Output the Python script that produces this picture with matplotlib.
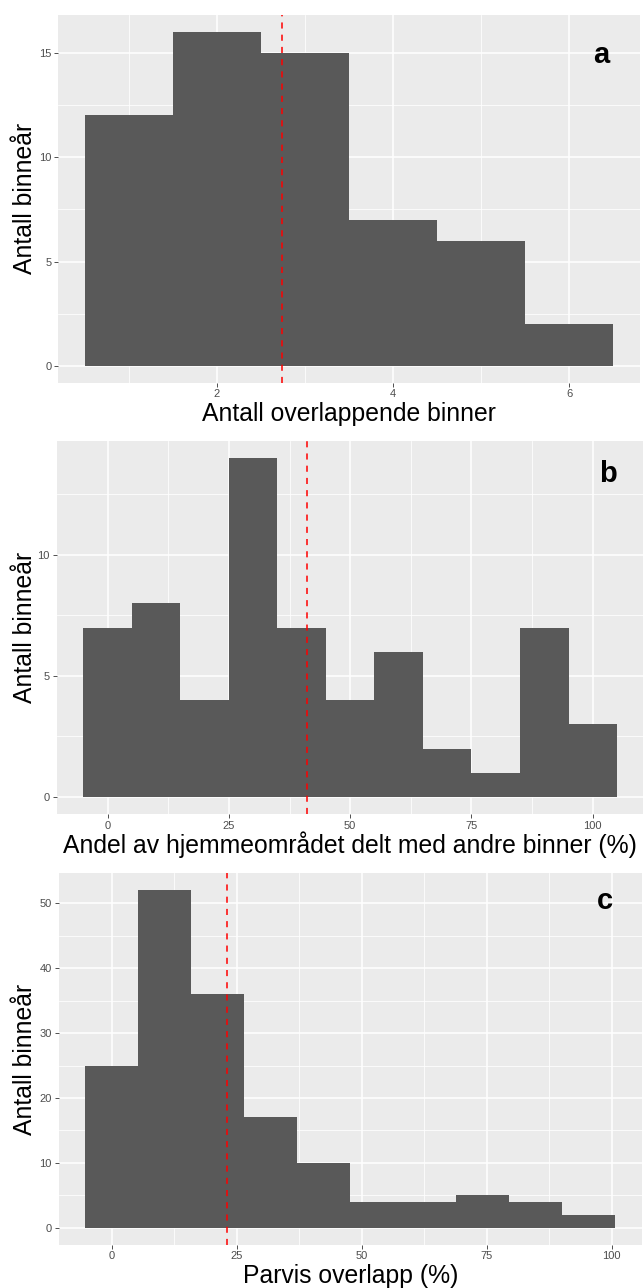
import numpy as np
import matplotlib
matplotlib.use('Agg')
import matplotlib.pyplot as plt
from matplotlib.ticker import MultipleLocator

plt.rcParams['font.family'] = ['Liberation Sans', 'DejaVu Sans']

# a: antall overlappende binner
a_centers = [1, 2, 3, 4, 5, 6]
a_counts = [12, 16, 15, 7, 6, 2]
a_width = 1.0
a_mean = 2.74

# b: andel av hjemmeområdet delt med andre binner (%)
b_centers = [0, 10, 20, 30, 40, 50, 60, 70, 80, 90, 100]
b_counts = [7, 8, 4, 14, 7, 4, 6, 2, 1, 7, 3]
b_width = 10.0
b_mean = 41.0

# c: parvis overlapp (%)
c_centers = [0, 10.6, 21.2, 31.8, 42.4, 53.0, 63.6, 74.2, 84.8, 95.4]
c_counts = [25, 52, 36, 17, 10, 4, 4, 5, 4, 2]
c_width = 10.6
c_mean = 23.0

ylab = 'Antall binneår'
xlabs = ['Antall overlappende binner',
         'Andel av hjemmeområdet delt med andre binner (%)',
         'Parvis overlapp (%)']
tags = ['a', 'b', 'c']

W, H = 643, 1288
fig = plt.figure(figsize=(W / 100, H / 100), dpi=100)
fig.patch.set_facecolor('white')

# panel boxes in pixels: left, right, top, bottom
boxes = [(58.3, 639.7, 15.0, 382.7),
         (56.7, 643.7, 441.0, 814.0),
         (58.7, 641.7, 873.4, 1244.7)]
xsteps = [(2, 1), (25, 12.5), (25, 12.5)]
ysteps = [(5, 2.5), (5, 2.5), (10, 5)]
tag_pos = [(6.36, 14.5), (103.2, 13.0), (98.7, 49.1)]
xlab_base = [421.0, 852.7, 1282.7]
ylab_base = 32.0

series = [(a_centers, a_counts, a_width, a_mean),
          (b_centers, b_counts, b_width, b_mean),
          (c_centers, c_counts, c_width, c_mean)]

for i, (centers, counts, width, mean) in enumerate(series):
    l, r, t, b = boxes[i]
    ax = fig.add_axes([l / W, 1 - b / H, (r - l) / W, (b - t) / H])
    ax.set_facecolor('#EBEBEB')
    for s in ax.spines.values():
        s.set_visible(False)

    ax.bar(centers, counts, width=width, color='#595959', linewidth=0, zorder=2)
    ax.axvline(mean, color='red', linestyle=(0, (4, 4)), linewidth=1.1, zorder=3)

    # ggplot-like expansion of 5 % on each side
    lo = min(centers) - width / 2
    hi = max(centers) + width / 2
    ax.set_xlim(lo - 0.05 * (hi - lo), hi + 0.05 * (hi - lo))
    ymax = max(counts)
    ax.set_ylim(-0.05 * ymax, 1.05 * ymax)

    ax.xaxis.set_major_locator(MultipleLocator(xsteps[i][0]))
    ax.xaxis.set_minor_locator(MultipleLocator(xsteps[i][1]))
    ax.yaxis.set_major_locator(MultipleLocator(ysteps[i][0]))
    ax.yaxis.set_minor_locator(MultipleLocator(ysteps[i][1]))
    ax.grid(which='major', color='white', linewidth=1.1)
    ax.grid(which='minor', color='white', linewidth=0.55)
    ax.set_axisbelow(True)

    ax.tick_params(which='major', length=2.8, width=0.6, color='#333333',
                   labelsize=8, labelcolor='#4D4D4D')
    ax.tick_params(axis='x', pad=2.0)
    ax.tick_params(axis='y', pad=2.2)
    ax.tick_params(which='minor', length=0)

    ax.set_xlabel(xlabs[i], fontsize=17.8, va='baseline')
    ax.xaxis.set_label_coords(0.5, -(xlab_base[i] - b) / (b - t))
    ax.set_ylabel(ylab, fontsize=17.8, va='baseline')
    ax.yaxis.set_label_coords((ylab_base - l) / (r - l), 0.5)

    ax.text(tag_pos[i][0], tag_pos[i][1], tags[i], fontsize=21,
            fontweight='bold', ha='center', va='baseline', zorder=4)

fig.savefig('out.png', dpi=100)
